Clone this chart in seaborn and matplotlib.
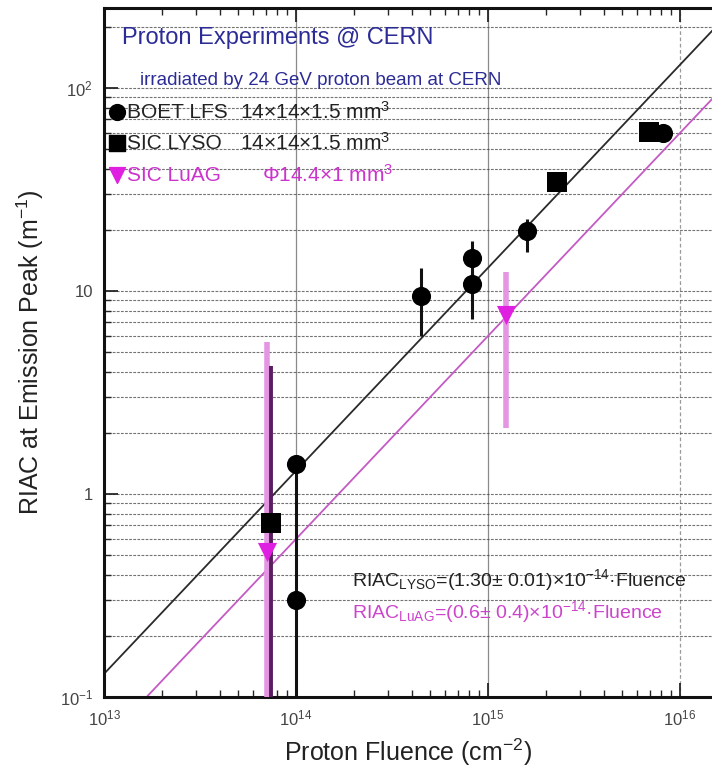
import numpy as np
import pandas as pd
import matplotlib
matplotlib.use("Agg")
import matplotlib.pyplot as plt
import matplotlib.ticker as mticker
import seaborn as sns

# Measured radiation-induced absorption at the emission peak vs. proton fluence
boet_fluence = [1.0e14, 1.0e14, 4.5e14, 8.3e14, 8.3e14, 1.6e15, 8.2e15]
boet_riac = [1.4, 0.3, 9.5, 14.5, 10.8, 19.8, 60.0]
boet_low = [1.4, 0.05, 6.0, 12.0, 7.3, 15.6, 60.0]
boet_high = [1.4, 1.4, 13.0, 17.7, 12.5, 22.7, 60.0]

lyso_fluence = [7.4e13, 2.3e15, 6.9e15]
lyso_riac = [0.72, 34.6, 61.0]
lyso_low = [0.05, 34.6, 61.0]
lyso_high = [4.25, 34.6, 61.0]

luag_fluence = [7.1e13, 1.24e15]
luag_riac = [0.52, 7.6]
luag_low = [0.05, 2.12]
luag_high = [5.6, 12.4]

# Linear fits RIAC = k * Fluence
k_lyso = 1.30e-14
k_luag = 0.6e-14
fit_fluence = [1.0e13, 3.0e16]

x_ticks = [1e13, 1e14, 1e15, 1e16]
x_tick_labels = [r"$10^{13}$", r"$10^{14}$", r"$10^{15}$", r"$10^{16}$"]
y_ticks = [0.1, 1, 10, 100]
y_tick_labels = [r"$10^{-1}$", "1", "10", r"$10^{2}$"]

sns.set_theme(style="white")
plt.rcParams["font.family"] = ["Liberation Sans", "DejaVu Sans"]
plt.rcParams["mathtext.fontset"] = "custom"
plt.rcParams["mathtext.rm"] = "Liberation Sans"
plt.rcParams["mathtext.it"] = "Liberation Sans:italic"
plt.rcParams["mathtext.bf"] = "Liberation Sans:bold"

fig = plt.figure(figsize=(7.12, 7.76), dpi=100)
ax = fig.add_axes([104 / 712, 1 - 697 / 776, 1 - 104 / 712, (697 - 8) / 776])
ax.set_xscale("log")
ax.set_yscale("log")
ax.set_xlim(1e13, 10 ** 16.167)
ax.set_ylim(0.1, 10 ** 2.394)

# grid: solid verticals at decades, dashed horizontals at every tick
for xv in x_ticks[1:3]:
    ax.axvline(xv, color="#8a8a8a", lw=0.9, zorder=0)
ax.axvline(x_ticks[3], color="#9a9a9a", lw=0.9, ls=(0, (3, 2)), zorder=0)
for dec in [0.1, 1, 10, 100]:
    for m in range(1, 10):
        yv = dec * m
        if 0.1 < yv < 10 ** 2.394:
            ax.axhline(yv, color="#444444", lw=0.8, ls=(0, (2.5, 1.2)), alpha=0.75, zorder=0)

# fit lines
fit_df = pd.DataFrame({
    "fluence": fit_fluence * 2,
    "riac": [k_lyso * f for f in fit_fluence] + [k_luag * f for f in fit_fluence],
    "set": ["LYSO"] * 2 + ["LuAG"] * 2,
})
sns.lineplot(data=fit_df, x="fluence", y="riac", hue="set",
             palette={"LYSO": "#2a2a2a", "LuAG": "#c45ac4"}, lw=1.3,
             legend=False, ax=ax, zorder=2)

# error bars
def bars(xs, ys, lo, hi, color, lw, z):
    ys = np.array(ys)
    yerr = np.vstack([ys - np.array(lo), np.array(hi) - ys])
    ax.errorbar(xs, ys, yerr=yerr, fmt="none", ecolor=color, elinewidth=lw,
                capsize=0, zorder=z)

bars(luag_fluence, luag_riac, luag_low, luag_high, "#e496e4", 4.0, 3)
bars(lyso_fluence, lyso_riac, lyso_low, lyso_high, "#5a1d5e", 2.8, 4)
bars(boet_fluence, boet_riac, boet_low, boet_high, "#111111", 2.2, 4)

# markers
sns.scatterplot(x=boet_fluence, y=boet_riac, marker="o", s=190, color="black",
                edgecolor="black", linewidth=0, ax=ax, zorder=5)
sns.scatterplot(x=lyso_fluence, y=lyso_riac, marker="s", s=190, color="black",
                edgecolor="black", linewidth=0, ax=ax, zorder=6)
sns.scatterplot(x=luag_fluence, y=luag_riac, marker="v", s=190, color="#e020e0",
                edgecolor="#e020e0", linewidth=0, ax=ax, zorder=6)

# ticks and spines
ax.set_xticks(x_ticks)
ax.set_xticklabels(x_tick_labels)
ax.set_yticks(y_ticks)
ax.set_yticklabels(y_tick_labels)
ax.xaxis.set_minor_locator(mticker.LogLocator(base=10, subs=np.arange(2, 10)))
ax.yaxis.set_minor_locator(mticker.LogLocator(base=10, subs=np.arange(2, 10)))
ax.xaxis.set_minor_formatter(mticker.NullFormatter())
ax.yaxis.set_minor_formatter(mticker.NullFormatter())
ax.tick_params(which="major", direction="in", length=10, width=1.3,
               top=True, bottom=True, left=True, right=False,
               labelsize=12, labelcolor="#444444", pad=8)
ax.tick_params(which="minor", direction="in", length=5, width=1.0,
               top=True, bottom=True, left=True, right=False)
for side in ["left", "bottom", "top"]:
    ax.spines[side].set_color("#111111")
    ax.spines[side].set_linewidth(2.2)
ax.spines["right"].set_visible(False)

ax.set_xlabel(r"Proton Fluence (cm$^{-2}$)", fontsize=18, color="#222222", labelpad=6)
ax.set_ylabel(r"RIAC at Emission Peak (m$^{-1}$)", fontsize=18, color="#222222", labelpad=10)

# header texts
tr = ax.transAxes
def ax_xy(px, py):
    return (px - 104) / (712 - 104), (697 - py) / (697 - 8)

ax.text(*ax_xy(122, 38), "Proton Experiments @ CERN", fontsize=17, color="#2c2c96",
        va="center", ha="left", transform=tr)
ax.text(*ax_xy(140, 80), "irradiated by 24 GeV proton beam at CERN", fontsize=13.5,
        color="#2c2c96", va="center", ha="left", transform=tr)

legend_rows = [
    (112, "o", "black", "BOET LFS", "14×14×1.5 mm$^{3}$", 240, "#222222"),
    (143, "s", "black", "SIC LYSO", "14×14×1.5 mm$^{3}$", 240, "#222222"),
    (175, "v", "#e020e0", "SIC LuAG", "Φ14.4×1 mm$^{3}$", 262, "#cc33cc"),
]
for py, mk, mcol, name, size, sx, tcol in legend_rows:
    ax.scatter([ax_xy(117, py)[0]], [ax_xy(117, py)[1]], marker=mk, s=130,
               color=mcol, transform=tr, zorder=7, clip_on=False)
    ax.text(*ax_xy(127, py), name, fontsize=15, color=tcol, va="center",
            ha="left", transform=tr)
    ax.text(*ax_xy(sx, py), size, fontsize=15, color=tcol, va="center",
            ha="left", transform=tr)

ax.text(*ax_xy(352, 580), r"RIAC$_{\mathrm{LYSO}}$=(1.30$\pm$ 0.01)×10$^{-14}$·Fluence",
        fontsize=14, color="#222222", va="center", ha="left", transform=tr)
ax.text(*ax_xy(352, 612), r"RIAC$_{\mathrm{LuAG}}$=(0.6$\pm$ 0.4)×10$^{-14}$·Fluence",
        fontsize=14, color="#cc44cc", va="center", ha="left", transform=tr)

fig.savefig("out.png", dpi=100)
